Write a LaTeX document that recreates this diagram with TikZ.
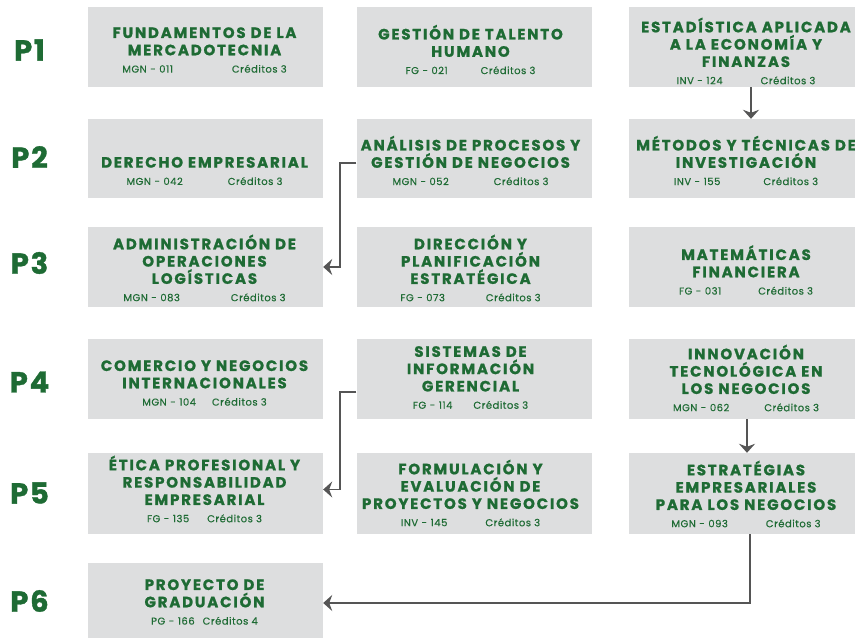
\documentclass[tikz,border=0pt]{standalone}
\usepackage{fontspec}
\setmainfont{Poppins}[BoldFeatures={FakeBold=0.5}]
\newfontfamily\titlefont{Poppins}[LetterSpace=12, BoldFeatures={FakeBold=1.0}]
\newfontfamily\codefont{Poppins}[LetterSpace=5, FakeBold=0.3]
\newfontfamily\perfont{Poppins}[LetterSpace=6, BoldFeatures={FakeBold=1.2}]
\usetikzlibrary{arrows.meta}
\definecolor{grn}{HTML}{1E6B34}
\definecolor{boxg}{HTML}{DDDEDF}
\definecolor{arrg}{HTML}{555555}
\tikzset{
  cbox/.style={fill=boxg, draw=none, inner sep=0pt, minimum width=235pt},
  ctext/.style={text=grn, align=center, inner sep=0pt,
    font=\titlefont\bfseries\fontsize{15}{17.3}\selectfont},
  plabel/.style={text=grn, inner sep=0pt, font=\perfont\bfseries\fontsize{29}{30}\selectfont},
  arr/.style={draw=arrg, line width=1.8pt, -{Stealth[length=9pt,width=16pt,inset=3pt]}},
}
\newcommand\codeln[4]{{\codefont\mdseries\fontsize{10}{12}\selectfont #1\hspace{3.5pt}-\hspace{3.5pt}#2\hspace{#3pt}Créditos #4}}
\newcommand\course[7]{%
  \node[cbox, minimum height=#4pt] (#1) at (#2,#3) {};
  \node[ctext] (#1t) at (#5,#6) {#7};
}
\begin{document}
\begin{tikzpicture}[x=1pt,y=-1pt]
\clip (0,0) rectangle (855,639);
\fill[white] (0,0) rectangle (855,639);
% period labels
\node[plabel] (p1) at (29.5,50) {P1};
\node[plabel] (p2) at (29.5,157) {P2};
\node[plabel] (p3) at (29.5,263) {P3};
\node[plabel] (p4) at (29.5,382) {P4};
\node[plabel] (p5) at (29.5,493) {P5};
\node[plabel] (p6) at (29.5,601) {P6};
% row 1
\course{b11}{205.5}{47}{80}{204.5}{50}{FUNDAMENTOS DE LA\\MERCADOTECNIA\\\codeln{MGN}{011}{59}{3}}
\course{b12}{474}{47}{80}{470.5}{49.5}{GESTIÓN DE TALENTO\\HUMANO\\\codeln{FG}{021}{33}{3}}
\course{b13}{746}{47}{80}{746}{51}{ESTADÍSTICA APLICADA\\A LA ECONOMÍA Y\\FINANZAS\\\codeln{INV}{124}{38}{3}}
% row 2
\course{b21}{205.5}{158.5}{79}{204.5}{171}{DERECHO EMPRESARIAL\\\codeln{MGN}{042}{45}{3}}
\course{b22}{474}{158.5}{79}{470.5}{160.5}{ANÁLISIS DE PROCESOS Y\\GESTIÓN DE NEGOCIOS\\\codeln{MGN}{052}{45}{3}}
\course{b23}{746}{158.5}{79}{746}{160.5}{MÉTODOS Y TÉCNICAS DE\\INVESTIGACIÓN\\\codeln{INV}{155}{43}{3}}
% row 3
\course{b31}{205.5}{267}{80}{204.5}{268}{ADMINISTRACIÓN DE\\OPERACIONES\\LOGÍSTICAS\\\codeln{MGN}{083}{51}{3}}
\course{b32}{474}{267}{80}{470.5}{268}{DIRECCIÓN Y\\PLANIFICACIÓN\\ESTRATÉGICA\\\codeln{FG}{073}{41}{3}}
\course{b33}{746}{267}{80}{746}{270}{MATEMÁTICAS\\FINANCIERA\\\codeln{FG}{031}{37}{3}}
% row 4
\course{b41}{205.5}{379}{80}{204.5}{383}{COMERCIO Y NEGOCIOS\\INTERNACIONALES\\\codeln{MGN}{104}{16}{3}}
\course{b42}{474}{379}{80}{470.5}{377.5}{SISTEMAS DE\\INFORMACIÓN\\GERENCIAL\\\codeln{FG}{114}{21}{3}}
\course{b43}{746}{379}{80}{746}{378}{INNOVACIÓN\\TECNOLÓGICA EN\\LOS NEGOCIOS\\\codeln{MGN}{062}{35}{3}}
% row 5
\course{b51}{205.5}{493.5}{81}{204.5}{489}{ÉTICA PROFESIONAL Y\\RESPONSABILIDAD\\EMPRESARIAL\\\codeln{FG}{135}{18}{3}}
\course{b52}{474}{493.5}{81}{470.5}{493}{FORMULACIÓN Y\\EVALUACIÓN DE\\PROYECTOS Y NEGOCIOS\\\codeln{INV}{145}{38}{3}}
\course{b53}{746}{493.5}{81}{746}{494}{ESTRATÉGIAS\\EMPRESARIALES\\PARA LOS NEGOCIOS\\\codeln{MGN}{093}{38}{3}}
% row 6
\course{b61}{205.5}{600.5}{75}{204.5}{602}{PROYECTO DE\\GRADUACIÓN\\\codeln{PG}{166}{8}{4}}
% connectors
\draw[arr] ([xshift=5pt]b13.south) -- ([xshift=5pt]b23.north);
\draw[arr] ([yshift=-4.5pt]b22.west) -- ++(-16,0) |- (b31.east);
\draw[arr] ([yshift=-13pt]b42.west) -- ++(-16,0) |- ([yshift=4pt]b51.east);
\draw[arr] ([xshift=1pt]b43.south) -- ([xshift=1pt]b53.north);
\draw[arr] ([xshift=4pt]b53.south) |- ([yshift=-2.5pt]b61.east);
\end{tikzpicture}
\end{document}
